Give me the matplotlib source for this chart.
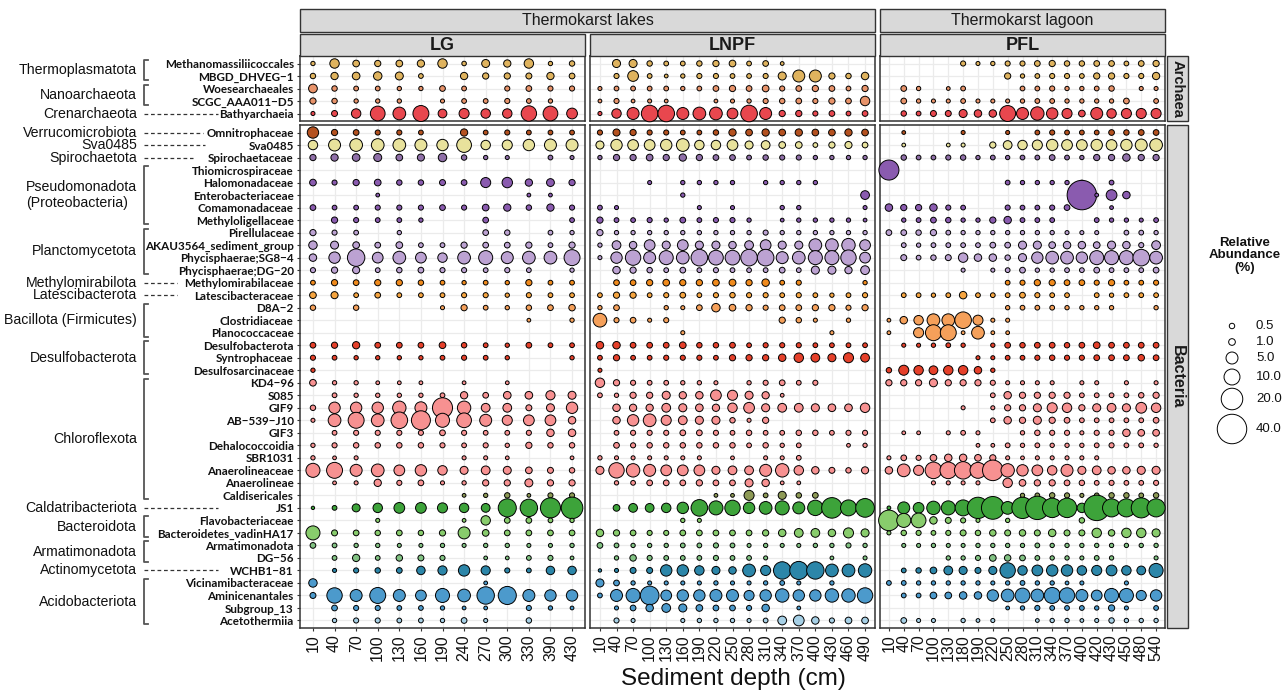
import numpy as np
import matplotlib
matplotlib.use('Agg')
import matplotlib.pyplot as plt
from matplotlib.transforms import blended_transform_factory
from matplotlib.patches import Rectangle
from matplotlib.lines import Line2D

# ---------------- data ----------------
ARCH_TAXA = ["Methanomassiliicoccales", "MBGD_DHVEG\u22121", "Woesearchaeales",
             "SCGC_AAA011\u2212D5", "Bathyarchaeia"]
BACT_TAXA = ["Omnitrophaceae", "Sva0485", "Spirochaetaceae", "Thiomicrospiraceae",
             "Halomonadaceae", "Enterobacteriaceae", "Comamonadaceae", "Methyloligellaceae",
             "Pirellulaceae", "AKAU3564_sediment_group", "Phycisphaerae;SG8\u22124",
             "Phycisphaerae;DG\u221220", "Methylomirabilaceae", "Latescibacteraceae",
             "D8A\u22122", "Clostridiaceae", "Planococcaceae", "Desulfobacterota",
             "Syntrophaceae", "Desulfosarcinaceae", "KD4\u221296", "S085", "GIF9",
             "AB\u2212539\u2212J10", "GIF3", "Dehalococcoidia", "SBR1031", "Anaerolineaceae",
             "Anaerolineae", "Caldisericales", "JS1", "Flavobacteriaceae",
             "Bacteroidetes_vadinHA17", "Armatimonadota", "DG\u221256", "WCHB1\u221281",
             "Vicinamibacteraceae", "Aminicenantales", "Subgroup_13", "Acetothermiia"]

ARCH_PHYLA = [("Thermoplasmatota", 0, 1), ("Nanoarchaeota", 2, 3), ("Crenarchaeota", 4, 4)]
BACT_PHYLA = [("Verrucomicrobiota", 0, 0), ("Sva0485", 1, 1), ("Spirochaetota", 2, 2),
              ("Pseudomonadota\n(Proteobacteria)", 3, 7), ("Planctomycetota", 8, 11),
              ("Methylomirabilota", 12, 12), ("Latescibacterota", 13, 13),
              ("Bacillota (Firmicutes)", 14, 16), ("Desulfobacterota", 17, 19),
              ("Chloroflexota", 20, 29), ("Caldatribacteriota", 30, 30),
              ("Bacteroidota", 31, 32), ("Armatimonadota", 33, 34),
              ("Actinomycetota", 35, 35), ("Acidobacteriota", 36, 39)]

LG_DEPTH = [10, 40, 70, 100, 130, 160, 190, 240, 270, 300, 330, 390, 430]
LNPF_DEPTH = [10, 40, 70, 100, 130, 160, 190, 220, 250, 280, 310, 340, 370, 400, 430, 460, 490]
PFL_DEPTH = [10, 40, 70, 100, 130, 180, 190, 220, 250, 280, 310, 340, 370, 400, 420, 430, 450, 480, 540]

LG_ARCH = [
    [0.2, 2.7, 1, 0.8, 1, 1.3, 2.7, 0.25, 1.7, 1.3, 2.7, 0.2, 0.5],
    [0.5, 1.3, 1.5, 2.0, 1.7, 0.3, 0, 1.3, 0.8, 0.8, 0.7, 1.3, 0.6],
    [2.2, 0.5, 0.3, 0.3, 0.2, 0.2, 0.6, 0.3, 0, 0.4, 0.6, 0.4, 0.4],
    [0.8, 0.5, 0.2, 0.2, 0.2, 0, 0.15, 0.3, 0.3, 0.4, 0.3, 0.2, 0],
    [0.15, 0.7, 2.7, 8.3, 5.8, 10, 2.2, 3.2, 2.7, 2.7, 9.2, 8.3, 3.8],
]
LNPF_ARCH = [
    [0, 1.75, 1.75, 0.5, 0.3, 0.3, 0.5, 0.8, 1, 0.3, 0.6, 0.1, 0, 0, 0, 0, 0],
    [0, 0.4, 3.8, 0.3, 0.1, 0.2, 0.4, 0.4, 0.3, 0.3, 0.4, 1.75, 5, 5, 0.8, 0.5, 1.4],
    [0.15, 0.3, 0.3, 0.3, 0.3, 0.2, 0.3, 0.6, 0.8, 0.6, 1, 0.4, 0.6, 0.8, 0.6, 0.3, 0.8],
    [0.1, 0.4, 0.1, 0.15, 0.1, 0, 0, 0.1, 0.15, 0.2, 0.4, 0.5, 0.6, 0.4, 0.8, 0.6, 2.7],
    [0.15, 2.7, 5, 11, 11, 5, 5.8, 5.8, 3.8, 11, 5, 0.8, 0.8, 0.4, 0.6, 0.3, 0.6],
]
PFL_ARCH = [
    [0, 0, 0, 0, 0, 0.4, 0.15, 0.2, 0.4, 0.4, 0.6, 0.8, 0.5, 0.5, 0.6, 0.6, 0.3, 0.6, 0.8],
    [0, 0, 0, 0, 0, 0, 0, 0, 0.8, 0.2, 0.3, 0.4, 0.4, 0.3, 0.8, 0.8, 0.4, 0.4, 1.3],
    [0, 0.6, 0.2, 0, 0.1, 0.3, 0, 0, 0, 0.3, 0.3, 0.4, 0.2, 0.2, 0.3, 0.5, 0, 0.15, 0.15],
    [0, 0.6, 0.2, 0.15, 0.15, 0.3, 0.15, 0.15, 0.15, 0.2, 0.3, 0.3, 0.2, 0.2, 0.2, 0.2, 0.6, 0, 0.3],
    [0, 0.5, 0.3, 0.7, 0.7, 1.75, 1.4, 1.4, 10, 5, 6.6, 4.4, 3.2, 1, 5, 2.7, 3.2, 3.2, 3.2],
]

LG_BACT = [
    [4.4, 0.8, 0.6, 0.4, 0.4, 0.3, 0, 1.3, 0.3, 0.4, 0.3, 0.3, 0.3],
    [2.7, 5, 5.8, 5.8, 5.8, 5, 4.4, 8.3, 2.7, 3.2, 4.4, 5, 5],
    [0.8, 1.3, 1.5, 1.7, 1, 1.2, 2, 0.5, 0.2, 0.15, 0, 0.3, 0.15],
    [0, 0, 0, 0, 0, 0, 0, 0, 0, 0, 0, 0, 0],
    [1, 0.4, 0.8, 1, 0.5, 0.5, 0.7, 0.6, 3.2, 3.5, 1.3, 1.6, 0.8],
    [0, 0, 0, 0.1, 0, 0, 0, 0, 0, 0, 0.1, 0.1, 0],
    [0.6, 0.3, 0.3, 0.4, 0.4, 0.4, 0.6, 0.4, 1, 1.3, 0.5, 1.3, 0.4],
    [0, 0.8, 0.4, 0.3, 0.3, 0.2, 0, 0, 0.6, 0, 0, 0, 0.3],
    [0.8, 0.4, 0.3, 0, 0.2, 0, 0, 0, 0.6, 0.5, 0, 0.3, 0.2],
    [2, 1.7, 1, 0.6, 1, 0.3, 0.3, 0.8, 0.6, 0.6, 0.8, 0.3, 0.8],
    [1.4, 4.4, 12.3, 3.8, 5.8, 3.8, 2.7, 5.8, 7.4, 5, 5.8, 5.8, 10],
    [0.4, 0.8, 1.2, 0.3, 0.5, 0.6, 0.4, 0.4, 0.3, 0.4, 0.3, 0, 0.2],
    [0.3, 0.8, 0.6, 0.8, 0.8, 0.5, 0.3, 0.2, 0.3, 0.2, 0.8, 0.3, 0.3],
    [1, 1.2, 0.3, 0.6, 0.3, 0.3, 0.3, 0.4, 0.4, 0.2, 0.4, 0.3, 0.3],
    [0.5, 0, 0.5, 0, 0, 0, 0.15, 0.8, 0.3, 0.2, 0.5, 0.6, 0.9],
    [0, 0, 0, 0, 0, 0, 0, 0, 0, 0, 0.1, 0, 0.2],
    [0, 0, 0, 0, 0, 0, 0, 0, 0, 0, 0, 0, 0],
    [0.6, 0.8, 1.3, 0.6, 0.6, 0.6, 1, 0.5, 0.3, 0.2, 0.6, 0.3, 0.3],
    [0.4, 0.3, 0.2, 0.2, 0.2, 0.2, 0.3, 0.4, 0.3, 0.2, 0, 0, 0.2],
    [0.2, 0, 0, 0, 0, 0, 0, 0, 0, 0, 0, 0, 0],
    [1, 0.2, 0.2, 0.1, 0.1, 0.1, 0, 0.1, 0, 0.1, 0, 0, 0],
    [0, 0.3, 0.2, 0.2, 0.2, 0.2, 0.3, 1.3, 0.6, 1.5, 1.5, 2.5, 1.7],
    [0.5, 4.4, 4.4, 4.4, 6.6, 5, 17, 6.6, 2.2, 2.2, 0.7, 1.7, 4.4],
    [0.15, 5.8, 10, 5.8, 11, 15, 7.4, 8.3, 5, 3.2, 3.8, 3.8, 1.4],
    [0, 0.3, 0.4, 0.4, 0.4, 0.4, 0.6, 0.4, 0.3, 0.3, 0.4, 1.4, 1.4],
    [0.2, 0.4, 0.5, 0.5, 0.5, 0.5, 0.4, 0.3, 0.4, 0.2, 0.8, 0.5, 0.5],
    [0.2, 0.1, 0.15, 0, 0, 0, 0, 0.15, 0.15, 0.1, 0, 0, 0.1],
    [7.4, 10, 5, 5.8, 3.8, 4.4, 2.7, 1.7, 2.2, 1.7, 1, 0.7, 0.5],
    [0, 0.1, 0.15, 1.3, 0.4, 0.6, 0.15, 0.2, 0.8, 0.8, 1.7, 0.8, 0.8],
    [0, 0, 0, 0, 0, 0, 0, 0.1, 0.2, 0.5, 0.1, 0.4, 0.4],
    [0.05, 0.3, 1.7, 2.7, 3.8, 3.8, 3.2, 2.7, 2.2, 13.4, 12.3, 17, 20],
    [0, 0, 0, 0.15, 0, 0, 0, 0.1, 2.7, 0.6, 0.6, 0.3, 0.2],
    [7.4, 0.7, 0.6, 0.5, 0.6, 0.5, 0.8, 5, 1, 0.6, 0.6, 0.6, 0.6],
    [0.6, 0.3, 0.2, 0.2, 0.15, 0.15, 0.2, 0.15, 0.2, 0.2, 0.15, 0.15, 0.2],
    [0, 0.3, 1.3, 0.3, 0.9, 0.7, 0.4, 0, 0.1, 0.1, 0.3, 0.4, 0.1],
    [0, 0.15, 0.4, 0.5, 0.6, 2, 2.5, 4.4, 2.5, 0.4, 0.3, 2, 2],
    [2, 0, 0, 0, 0, 0, 0, 0, 0.1, 0, 0, 0, 0],
    [0.7, 9.2, 5, 10, 5, 3.8, 7.4, 5.8, 12.3, 13.4, 5, 4.4, 4.4],
    [0, 0.6, 0.4, 0.4, 0.3, 0.3, 0.2, 0.1, 0.1, 0, 0.4, 0.2, 0.1],
    [0, 0.2, 0.4, 0.4, 0.3, 0.3, 0.2, 0.6, 0.15, 0, 0.5, 0, 0],
]

LNPF_BACT = [
    [0.4, 1.2, 0.8, 0.4, 0.4, 0.3, 0.3, 0.5, 1.3, 1, 1.3, 1, 1.3, 1, 1, 1.3, 1],
    [1.75, 4.4, 3.8, 3.8, 4.4, 5.8, 2.7, 2.7, 3.8, 1.75, 2.2, 1, 1, 0.3, 0.8, 1.2, 0.6],
    [0.2, 0.8, 0.8, 1, 0.8, 1.3, 0.8, 0.6, 0.6, 0.3, 0.5, 0.4, 0.4, 0.2, 0.2, 0.2, 0.2],
    [0, 0, 0, 0, 0, 0, 0, 0, 0, 0, 0, 0, 0, 0, 0, 0, 0],
    [0, 0, 0, 0.15, 0, 0.2, 0.2, 0.2, 0.2, 0, 0.2, 0.2, 0.2, 0.2, 0, 0, 0],
    [0, 0, 0, 0, 0, 0.2, 0, 0, 0, 0, 0, 0, 0, 0, 0, 0, 2.2],
    [0.3, 0.15, 0, 0, 0, 0, 0.15, 0, 0.15, 0, 0, 0.2, 0.2, 0, 0, 0, 0.15],
    [0.8, 0.3, 0.3, 0.4, 0.2, 0.6, 0.3, 0.4, 0.4, 0.2, 0, 0.1, 0.2, 0.2, 0.2, 0.2, 0.1],
    [0.8, 0.2, 0.2, 0.2, 0.2, 0.2, 0.2, 0.2, 0.2, 0.2, 0.4, 0.2, 0.2, 0.2, 0.2, 0.2, 0.2],
    [0.2, 2.2, 1.4, 3.8, 1.75, 3.8, 1.75, 1.75, 1.4, 2.2, 3.8, 1.75, 1.75, 5.8, 5.8, 6.6, 3.8],
    [0.15, 4.4, 9.2, 5, 7.4, 5.8, 11, 8.3, 8.3, 11, 11, 5, 5.8, 7.4, 7.4, 9.2, 3.8],
    [0, 1.4, 0.8, 0.5, 0.3, 0.6, 0.3, 0.4, 0.3, 0.3, 0.3, 0.6, 0.3, 1.75, 1.75, 1.3, 2.2],
    [0, 0.6, 0.6, 0.8, 1, 0.8, 0.8, 1, 1.1, 0.8, 1.4, 0.3, 0.4, 0, 0, 0, 0.2],
    [0.3, 0.8, 0.8, 0.3, 0.4, 0.6, 0.3, 0.4, 0.5, 0.4, 0.4, 0.3, 0.4, 0.3, 0.2, 0.3, 0.4],
    [0.2, 0.6, 0, 0, 0.2, 0.15, 0.6, 2, 1, 0.8, 0.4, 0.6, 0.6, 0.8, 0.8, 0.4, 0.8],
    [7, 0.4, 0.6, 0.15, 0.4, 0, 0, 0, 0, 0, 0, 0.8, 0.5, 0.15, 0, 0.2, 0],
    [0, 0, 0, 0, 0, 0.15, 0, 0, 0, 0, 0, 0, 0, 0, 0.15, 0, 0],
    [1.4, 1.4, 0.6, 0.6, 0.6, 1, 0.5, 0.5, 0.6, 0.3, 0.4, 0.4, 0.4, 0.3, 0.3, 0.3, 0.3],
    [0.3, 0.8, 0.3, 0.3, 0.4, 0.4, 0.4, 0.3, 0.8, 0.8, 0.8, 1.4, 2.7, 2.2, 1.75, 3.2, 2.2],
    [0.15, 0, 0, 0, 0, 0, 0, 0, 0, 0, 0, 0, 0, 0, 0, 0, 0],
    [2.7, 0.8, 0.4, 0.3, 0.3, 0.2, 0.2, 0.15, 0, 0.2, 0.4, 0.6, 0.3, 0.4, 0, 0, 0],
    [0.3, 0.2, 0.8, 0.8, 1.75, 1.3, 1.4, 3.8, 3.2, 1.75, 1.3, 0.1, 0, 0, 0, 0, 0],
    [0, 1.4, 1.3, 1.3, 2.2, 1.75, 1.5, 1.3, 2.7, 3.8, 1.75, 2.2, 2.2, 1.75, 1.5, 1.5, 2.7],
    [0, 1.4, 4.4, 5.8, 3.2, 2.2, 1.75, 1.75, 0.5, 0.15, 0.8, 0, 0, 0, 0, 0, 0],
    [0, 0.3, 0.4, 0.4, 0.4, 0.6, 0.6, 0.4, 0.3, 0.5, 0.3, 0.3, 0.5, 0.5, 0.3, 0.4, 0.4],
    [0, 0.6, 0.4, 0.5, 0.5, 0.5, 0.5, 0.5, 0.5, 0.3, 0.5, 0.2, 0.3, 0, 0, 0.1, 0.2],
    [0.2, 0.15, 0.15, 0.15, 0.15, 0.15, 0.15, 0, 0.1, 0, 0.15, 0.15, 0.3, 0, 0, 0, 0],
    [1.75, 9.2, 6.6, 5, 3.8, 3.8, 3.8, 1.75, 2.2, 2.2, 5, 6.6, 2.7, 1.4, 0.7, 0.5, 1.2],
    [0, 0.2, 0.3, 0.6, 0.6, 0.6, 0.8, 0.6, 0.6, 1.75, 1.4, 0.1, 0.1, 0, 0, 0, 0],
    [0, 0, 0, 0, 0, 0, 0, 0.1, 0.1, 3.2, 0.3, 1.75, 0.5, 0.6, 0, 0, 0],
    [0, 1, 2.2, 2.2, 2.7, 4.4, 11, 7.4, 9.2, 4.4, 5.8, 7.4, 5, 9.2, 18, 10, 14.5],
    [0, 0, 0, 0, 0, 0.2, 0.15, 0, 0, 0, 0, 0, 0, 0, 0, 0, 0],
    [1.4, 0.8, 0.6, 0.4, 0.4, 0.6, 0.6, 0.6, 0.6, 0.6, 0.8, 1.4, 2.2, 2.2, 1.4, 3.2, 1.75],
    [0.6, 0.3, 0.2, 0.2, 0.2, 0.3, 0.3, 0.4, 0.3, 0.15, 0.2, 0.15, 0.15, 0.2, 0.2, 0.4, 0.2],
    [0, 0.2, 0.9, 0.4, 0.3, 0.3, 0.3, 0.4, 0.3, 0.3, 0.15, 0, 0, 0, 0.1, 0, 0.15],
    [0.05, 0.15, 0.7, 0.7, 4.4, 4.4, 2.7, 1.75, 1.4, 5.8, 3.2, 12.3, 13.4, 12.3, 5.8, 5.8, 6.6],
    [1.75, 0.6, 0.2, 0.15, 0.15, 0.15, 0.15, 0.2, 0.15, 0.15, 0.2, 0.3, 0.15, 0, 0.2, 0, 0],
    [0.3, 5, 7.4, 14.5, 3.8, 4.4, 4.4, 5, 5, 3.2, 4.4, 6.6, 4.4, 4.4, 6.6, 6.6, 9.2],
    [0, 0.15, 0.6, 1.4, 2.2, 1.75, 1, 0.6, 0.6, 0.4, 1.4, 0, 0.1, 0, 0, 0, 0],
    [0, 0.4, 0.15, 0, 0, 0.15, 0.2, 0.2, 0.2, 0.15, 0.3, 2.2, 3.8, 1.4, 0.4, 1, 1],
]

PFL_BACT = [
    [0, 0.1, 0, 0, 0, 0.15, 0, 0, 0.15, 0, 0.3, 0.4, 0.3, 0.3, 0.3, 0.6, 0.5, 0.6, 0.6],
    [0, 0.1, 0, 0, 0.1, 0.15, 0, 0.8, 2.2, 2.7, 3.2, 4.4, 3.8, 3.8, 4.4, 3.8, 4.4, 5, 5.8],
    [0, 0.5, 0.3, 0.3, 0.4, 0.5, 0.2, 0.3, 0.2, 0.3, 0.3, 0.6, 0.3, 0.2, 0.8, 0.8, 1.4, 0.8, 0.8],
    [17, 0, 0, 0, 0, 0, 0, 0, 0, 0, 0, 0, 0, 0, 0, 0, 0, 0, 0],
    [0, 0, 0, 0, 0, 0, 0, 0, 0.3, 0.2, 0.2, 0.2, 0.2, 0.3, 0, 0.3, 0, 0, 0],
    [0, 0, 0, 0, 0, 0, 0, 0, 0, 0, 0, 0, 0, 40, 0.1, 3.8, 1.4, 0, 0],
    [1.4, 0.8, 0.8, 1.4, 0.4, 0.3, 0, 0, 0.4, 0.3, 0.3, 0.4, 0.6, 0, 0, 0.1, 0, 0, 0],
    [0, 0.2, 0.3, 0.6, 0.5, 0.2, 0.2, 0.8, 1.4, 0.3, 0.3, 0.3, 0, 0, 0.3, 0.2, 0.2, 0.15, 0.3],
    [0.6, 0.6, 0.5, 0.8, 0.3, 0.2, 0.2, 0.2, 0.2, 0.2, 0.2, 0.2, 0.15, 0.15, 0.15, 0, 0.3, 0.3, 0.2],
    [0, 0.3, 0.2, 0.3, 0.3, 0.3, 0.3, 0.6, 0.6, 1.75, 1.75, 1, 1.4, 1.4, 1, 1.75, 1.4, 0.4, 2.2],
    [0, 0.7, 0.3, 0.5, 0.7, 2.7, 1.4, 1.4, 0.5, 1.75, 4.4, 5.8, 5.8, 4.4, 7.4, 7.4, 7.4, 11, 5.8],
    [0, 0, 0, 0, 0, 0.15, 0, 0.15, 0.3, 0.6, 0.2, 0.2, 0.3, 0.3, 0.6, 0.3, 0.3, 0.3, 0.6],
    [0, 0, 0, 0, 0, 0, 0, 0, 0.3, 0.4, 0.8, 0.8, 0.6, 0.6, 0.4, 0.8, 0.3, 0.3, 0.4],
    [0, 0.3, 0.3, 0.2, 0.3, 1.4, 0.3, 0.3, 0.3, 0.6, 0.4, 0.3, 0.3, 0, 0.3, 0.2, 0.3, 0.3, 0.3],
    [0, 0, 0, 0, 0, 0, 0, 0, 0.2, 0.3, 0.3, 0.3, 0.2, 0.2, 0.2, 0.2, 0, 0, 0.2],
    [0.1, 1.4, 2.7, 5.8, 5.8, 11, 3.2, 0.15, 0.15, 0, 0, 0, 0, 0, 0, 0, 0, 0, 0],
    [0.1, 0, 3.2, 10, 10, 0.1, 5.8, 0.1, 0.1, 0, 0, 0, 0, 0, 0, 0, 0, 0, 0],
    [0, 0.15, 0.15, 0.2, 0.3, 0.2, 0, 0.2, 0.6, 0.5, 0.6, 0.6, 0.5, 0.6, 1, 0.6, 0.6, 0.6, 0.6],
    [0, 0, 0, 0, 0, 0, 0.15, 0.15, 0.3, 0.3, 0.4, 0.5, 0.4, 0.4, 0.6, 0.6, 0.6, 0.9, 0.6],
    [0.5, 3.2, 2.7, 2.2, 2.7, 2.7, 1.4, 0.2, 0, 0, 0, 0, 0, 0, 0, 0, 0, 0, 0],
    [0.8, 0.8, 0.8, 1.75, 0.8, 0.8, 0.8, 0.4, 0.15, 0.15, 0.15, 0.15, 0, 0.15, 0.15, 0, 0.15, 0, 0.15],
    [0, 0, 0, 0, 0, 0, 0, 0.3, 1.4, 0.8, 0.8, 0.8, 0.8, 0.3, 0.3, 0.3, 0.3, 0.5, 0.8],
    [0, 0, 0, 0, 0, 0.15, 0, 0.15, 0.8, 0.8, 1.75, 3.2, 2.7, 0.8, 1.75, 2.2, 1.75, 3.8, 2.7],
    [0, 0, 0, 0, 0, 0, 0, 0.3, 1.4, 0.8, 1.75, 0.8, 0.6, 0.3, 0.3, 0.3, 0.3, 0.3, 0.6],
    [0, 0.1, 0.1, 0, 0.15, 0.3, 0.15, 0, 0, 0.2, 0.5, 0.4, 0.4, 0.15, 0.4, 0.4, 1.4, 1, 1],
    [0, 0, 0, 0, 0, 0, 0.1, 0.1, 0.3, 0.2, 0.3, 0.2, 0.2, 0.2, 0.3, 0.4, 0.3, 0.3, 0.2],
    [0.15, 0.6, 0.4, 1, 1.4, 1.4, 1, 0.8, 0.15, 0.1, 0.15, 0.15, 0.15, 0.15, 0.15, 0, 0, 0, 0],
    [1.4, 5.8, 3.2, 11, 11, 12.3, 10, 18, 6.6, 4.4, 3.8, 2.7, 5, 1.75, 2.2, 1.4, 1.4, 1.75, 1.75],
    [0, 0, 0, 0.15, 0.15, 0.15, 0.15, 0, 2.7, 1, 0.8, 0.8, 0.6, 0.5, 0.3, 0.4, 0.3, 0.3, 0.4],
    [0, 0, 0, 0, 0, 0, 0, 0, 0, 0.2, 0.3, 0.5, 0.4, 0.15, 0.3, 0.5, 0.5, 0.3, 0.5],
    [0.1, 5, 3.8, 6.6, 7.4, 10, 19.5, 22.6, 5.8, 19.5, 24, 15.8, 15.8, 2.7, 29, 13.4, 13.4, 17, 13.4],
    [18, 7.4, 8.3, 1.4, 0.7, 0.4, 0.15, 0, 0.2, 0, 0, 0, 0, 0.5, 0, 0, 0, 0, 0],
    [0.15, 0.5, 0.4, 0.3, 0.4, 0.7, 0.5, 0.9, 0.7, 0.9, 0.7, 1.4, 0.7, 0.7, 2.7, 0.9, 2.7, 2.7, 1.75],
    [0, 0.15, 0.15, 0.2, 0.15, 0.15, 0.2, 0.2, 0.2, 0.2, 0.3, 0.2, 0.2, 0.2, 0.2, 0.2, 0.2, 0.2, 0.2],
    [0, 0, 0, 0, 0.2, 0.2, 0.4, 1, 0.9, 0.6, 0.3, 0.2, 0.2, 0.15, 0.3, 0.2, 0, 0, 0.15],
    [0, 0.3, 0.5, 1, 2.2, 1.75, 0.7, 1.75, 9.2, 2.7, 3.8, 4.4, 4.4, 2.7, 3.2, 3.8, 2.7, 2.2, 7.4],
    [0.3, 0.3, 0.2, 0.2, 0.2, 0.2, 0.2, 0.15, 0.2, 0.3, 0.2, 0.2, 0.1, 0.15, 0, 0, 0.15, 0, 0],
    [0, 0.3, 0.3, 1, 1, 1.4, 1.4, 4.4, 5.8, 8.3, 5.8, 10, 9.2, 5, 3.8, 7.4, 7.4, 3.2, 4.4],
    [0, 0, 0, 0, 0, 0, 0, 0, 0.1, 0.2, 0.4, 0.3, 0.3, 0.3, 0.2, 0.8, 0.15, 0, 0.3],
    [0, 0.6, 0.15, 0.15, 0, 0.2, 0.1, 0.15, 0, 0, 0.1, 0.2, 0.2, 0.1, 0.15, 0.5, 0.2, 0.2, 0.2],
]

LEGEND_VALUES = [0.5, 1.0, 5.0, 10.0, 20.0, 40.0]

# ---------------- styles ----------------
ARCH_COLORS = ["#DFB35E", "#DFB35E", "#E8936A", "#E8936A", "#E8474E"]
BACT_COLORS = (["#B4511F", "#E8E29C", "#8F6FA8"] + ["#8A5BAF"] * 5 + ["#BCA2D2"] * 4 +
               ["#F08A1C", "#F6A540"] + ["#F5A05A"] * 3 + ["#E5402A"] * 3 +
               ["#F79191"] * 9 + ["#8E9A56", "#3DA33A", "#88CC6C", "#88CC6C",
                                   "#82C283", "#82C283", "#2C86A9"] +
               ["#4C9ACC"] * 3 + ["#A6D0E6"])

W, H = 1285, 692
plt.rcParams['font.family'] = ['Liberation Sans', 'DejaVu Sans']
fig = plt.figure(figsize=(W / 100, H / 100), dpi=100)


def rect(x0, y0, x1, y1):
    return [x0 / W, 1 - y1 / H, (x1 - x0) / W, (y1 - y0) / H]


def msize(v):
    d = 3 + 4.28 * np.sqrt(np.asarray(v, float)) - 0.6
    return (d * 0.72) ** 2


PANEL_X = {"LG": (300, 585), "LNPF": (590, 875), "PFL": (880, 1165)}
ROW_Y = {"arch": (56, 121), "bact": (125, 628)}
PANELS = {"LG": (LG_DEPTH, LG_ARCH, LG_BACT),
          "LNPF": (LNPF_DEPTH, LNPF_ARCH, LNPF_BACT),
          "PFL": (PFL_DEPTH, PFL_ARCH, PFL_BACT)}

axes = {}
for pname, (depths, arch, bact) in PANELS.items():
    for dom, vals, taxa, cols in (("arch", arch, ARCH_TAXA, ARCH_COLORS),
                                  ("bact", bact, BACT_TAXA, BACT_COLORS)):
        x0, x1 = PANEL_X[pname]
        y0, y1 = ROW_Y[dom]
        ax = fig.add_axes(rect(x0, y0, x1, y1))
        axes[(pname, dom)] = ax
        n, m = len(depths), len(taxa)
        ax.set_xlim(-0.6, n - 1 + 0.6)
        ax.set_ylim(m - 1 + 0.6, -0.6)
        ax.set_xticks(range(n))
        ax.set_yticks(range(m))
        ax.grid(True, color="#EBEBEB", lw=0.9)
        ax.set_axisbelow(True)
        for sp in ax.spines.values():
            sp.set_color("#333333")
            sp.set_linewidth(1.1)
        xs, ys, ss, cs = [], [], [], []
        for i, row in enumerate(vals):
            for j, v in enumerate(row):
                if v > 0:
                    xs.append(j); ys.append(i); ss.append(v); cs.append(cols[i])
        ax.scatter(xs, ys, s=msize(ss), c=cs, edgecolors="black", linewidths=0.7,
                   zorder=3, clip_on=False)
        ax.tick_params(axis='both', colors="#333333", length=2.5, width=0.8)
        if pname == "LG":
            ax.set_yticklabels(taxa, fontweight='bold', fontsize=8.4,
                               family=['Lato', 'DejaVu Sans'], color="#111111")
            ax.tick_params(axis='y', pad=2)
        else:
            ax.tick_params(axis='y', length=0, labelleft=False)
        if dom == "bact":
            ax.set_xticklabels([str(d) for d in depths], rotation=90, fontsize=11.5,
                               color="#111111")
            ax.tick_params(axis='x', pad=2)
        else:
            ax.tick_params(axis='x', length=0, labelbottom=False)


def strip(x0, y0, x1, y1, text, **kw):
    fig.add_artist(Rectangle((x0 / W, 1 - y1 / H), (x1 - x0) / W, (y1 - y0) / H,
                             transform=fig.transFigure, facecolor="#D9D9D9",
                             edgecolor="#333333", lw=1.0))
    fig.text((x0 + x1) / 2 / W, 1 - (y0 + y1) / 2 / H, text, ha='center', va='center',
             color="#1A1A1A", **kw)


strip(300, 9, 875, 32, "Thermokarst lakes", fontsize=11.5)
strip(880, 9, 1165, 32, "Thermokarst lagoon", fontsize=11.5)
for pname, (x0, x1) in PANEL_X.items():
    strip(x0, 34, x1, 56, pname, fontsize=13, fontweight='bold')
strip(1167, 56, 1188, 121, "Archaea", fontsize=10.5, fontweight='bold', rotation=-90)
strip(1167, 125, 1188, 628, "Bacteria", fontsize=11.5, fontweight='bold', rotation=-90)

# phylum labels, brackets and dashed leaders
DASH_END = {"Crenarchaeota": 218, "Verrucomicrobiota": 203, "Sva0485": 205,
            "Spirochaetota": 193, "Methylomirabilota": 177, "Latescibacterota": 177,
            "Caldatribacteriota": 218, "Actinomycetota": 218}
for dom, phyla in (("arch", ARCH_PHYLA), ("bact", BACT_PHYLA)):
    ax = axes[("LG", dom)]
    tr = blended_transform_factory(fig.transFigure, ax.transData)
    for name, r0, r1 in phyla:
        ymid = (r0 + r1) / 2
        fig.text(137 / W, 0, name, transform=tr, ha='right', va='center',
                 fontsize=10.2, color="#111111", multialignment='left',
                 linespacing=1.15).set_y(ymid)
        if r0 == r1:
            fig.add_artist(Line2D([144 / W, DASH_END[name] / W], [ymid, ymid],
                                  transform=tr, color="#333333", lw=0.9,
                                  ls=(0, (3, 2.2))))
        else:
            ya, yb = r0 - 0.32, r1 + 0.32
            fig.add_artist(Line2D([148 / W, 143.5 / W, 143.5 / W, 148 / W],
                                  [ya, ya, yb, yb], transform=tr, color="#555555",
                                  lw=1.3))

# x axis title
fig.text(733 / W, 1 - 679 / H, "Sediment depth (cm)", ha='center', va='center',
         fontsize=17.5, color="#111111")

# size legend
ov = fig.add_axes([0, 0, 1, 1], facecolor='none')
ov.set_xlim(0, W)
ov.set_ylim(H, 0)
ov.axis('off')
ov.text(1245, 237, "Relative\nAbundance\n(%)", ha='center', va='top', fontsize=9.5,
        fontweight='bold', linespacing=1.05, color="#111111")
LEG_Y = [326, 342, 358, 377, 399, 429]
ov.scatter([1232] * len(LEGEND_VALUES), LEG_Y, s=msize(LEGEND_VALUES), facecolors='white',
           edgecolors='black', linewidths=0.7)
for v, y in zip(LEGEND_VALUES, LEG_Y):
    ov.text(1256, y, f"{v:.1f}", ha='left', va='center', fontsize=9.5, color="#111111")

fig.savefig("out.png", dpi=100)
